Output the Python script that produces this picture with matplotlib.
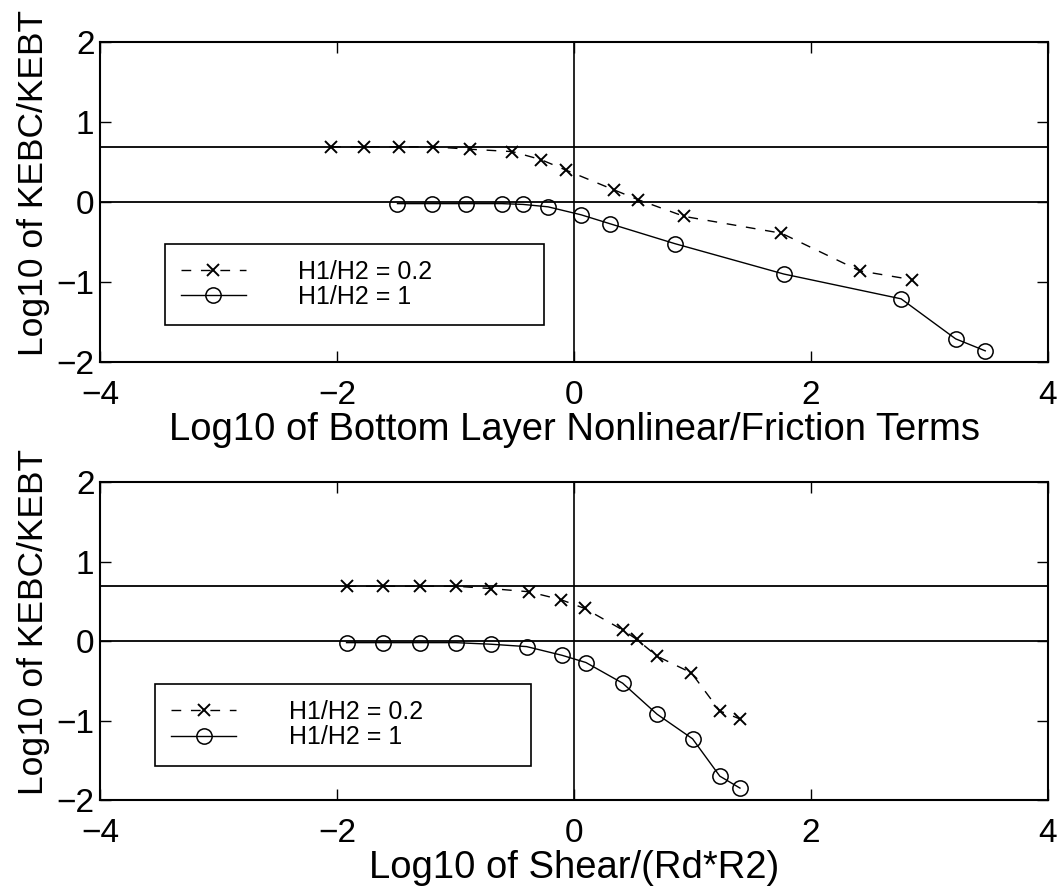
import numpy as np
import matplotlib
matplotlib.use("Agg")
import matplotlib.pyplot as plt

plt.rcParams['font.family'] = ['Liberation Sans', 'DejaVu Sans']

# top panel: bottom layer nonlinear/friction terms
x_top_02 = [-2.05, -1.77, -1.48, -1.19, -0.88, -0.52, -0.28, -0.07, 0.34, 0.54, 0.93, 1.75, 2.41, 2.85]
y_top_02 = [0.69, 0.69, 0.69, 0.69, 0.66, 0.63, 0.53, 0.40, 0.15, 0.03, -0.18, -0.39, -0.86, -0.97]
x_top_1 = [-1.49, -1.20, -0.91, -0.61, -0.43, -0.22, 0.06, 0.30, 0.85, 1.77, 2.76, 3.22, 3.47]
y_top_1 = [-0.02, -0.02, -0.02, -0.02, -0.03, -0.06, -0.16, -0.27, -0.52, -0.90, -1.21, -1.71, -1.86]

# bottom panel: shear/(Rd*R2)
x_bot_02 = [-1.92, -1.61, -1.30, -1.00, -0.70, -0.38, -0.11, 0.09, 0.41, 0.53, 0.70, 0.99, 1.23, 1.40]
y_bot_02 = [0.69, 0.69, 0.69, 0.69, 0.66, 0.62, 0.52, 0.41, 0.14, 0.02, -0.19, -0.40, -0.88, -0.98]
x_bot_1 = [-1.92, -1.61, -1.30, -1.00, -0.70, -0.40, -0.10, 0.10, 0.41, 0.70, 1.00, 1.23, 1.40]
y_bot_1 = [-0.02, -0.02, -0.02, -0.02, -0.04, -0.07, -0.18, -0.27, -0.53, -0.92, -1.23, -1.70, -1.85]

ref_level = 0.69
labels = ['H1/H2 = 0.2', 'H1/H2 = 1']
xlabels = ['Log10 of Bottom Layer Nonlinear/Friction Terms', 'Log10 of Shear/(Rd*R2)']
ylabel = 'Log10 of KEBC/KEBT'

fig = plt.figure(figsize=(10.61, 8.88), dpi=100)
ax1 = fig.add_axes([0.0943, 0.5923, 0.8935, 0.3604])
ax2 = fig.add_axes([0.0943, 0.0991, 0.8935, 0.358])

panels = [
    (ax1, x_top_02, y_top_02, x_top_1, y_top_1, (0.068, 0.360, 0.40, 0.01)),
    (ax2, x_bot_02, y_bot_02, x_bot_1, y_bot_1, (0.058, 0.355, 0.397, 0.01)),
]

for i, (ax, xa, ya, xb, yb, lbox) in enumerate(panels):
    ax.axhline(ref_level, color='k', lw=1.3)
    ax.axhline(0, color='k', lw=1.3)
    ax.axvline(0, color='k', lw=1.2)
    ax.plot(xa, ya, '--x', color='k', lw=1.0, ms=8, mew=1.4, dashes=(7, 7),
            label=labels[0])
    ax.plot(xb, yb, '-o', color='k', lw=1.0, ms=11, mfc='none', mew=1.1,
            label=labels[1])
    ax.set_xlim(-4, 4)
    ax.set_ylim(-2, 2)
    ax.set_xticks([-4, -2, 0, 2, 4])
    ax.set_yticks([-2, -1, 0, 1, 2])
    ax.tick_params(direction='in', length=8, width=1, top=True, right=True,
                   labelsize=24)
    ax.tick_params(axis='x', pad=13)
    ax.tick_params(axis='y', pad=4)
    for s in ax.spines.values():
        s.set_linewidth(1.5)
    ax.set_xlabel(xlabels[i], fontsize=27.5, labelpad=1)
    ax.set_ylabel(ylabel, fontsize=25.5)
    ax.yaxis.set_label_coords(-0.053, 0.56)
    leg = ax.legend(loc='upper left', bbox_to_anchor=lbox, mode='expand',
                    borderaxespad=0, fontsize=18, handlelength=2.6,
                    handletextpad=2.1, labelspacing=0.05, borderpad=0.65,
                    fancybox=False, edgecolor='k', framealpha=1)
    leg.get_frame().set_linewidth(1.2)

fig.savefig('out.png', dpi=100)
